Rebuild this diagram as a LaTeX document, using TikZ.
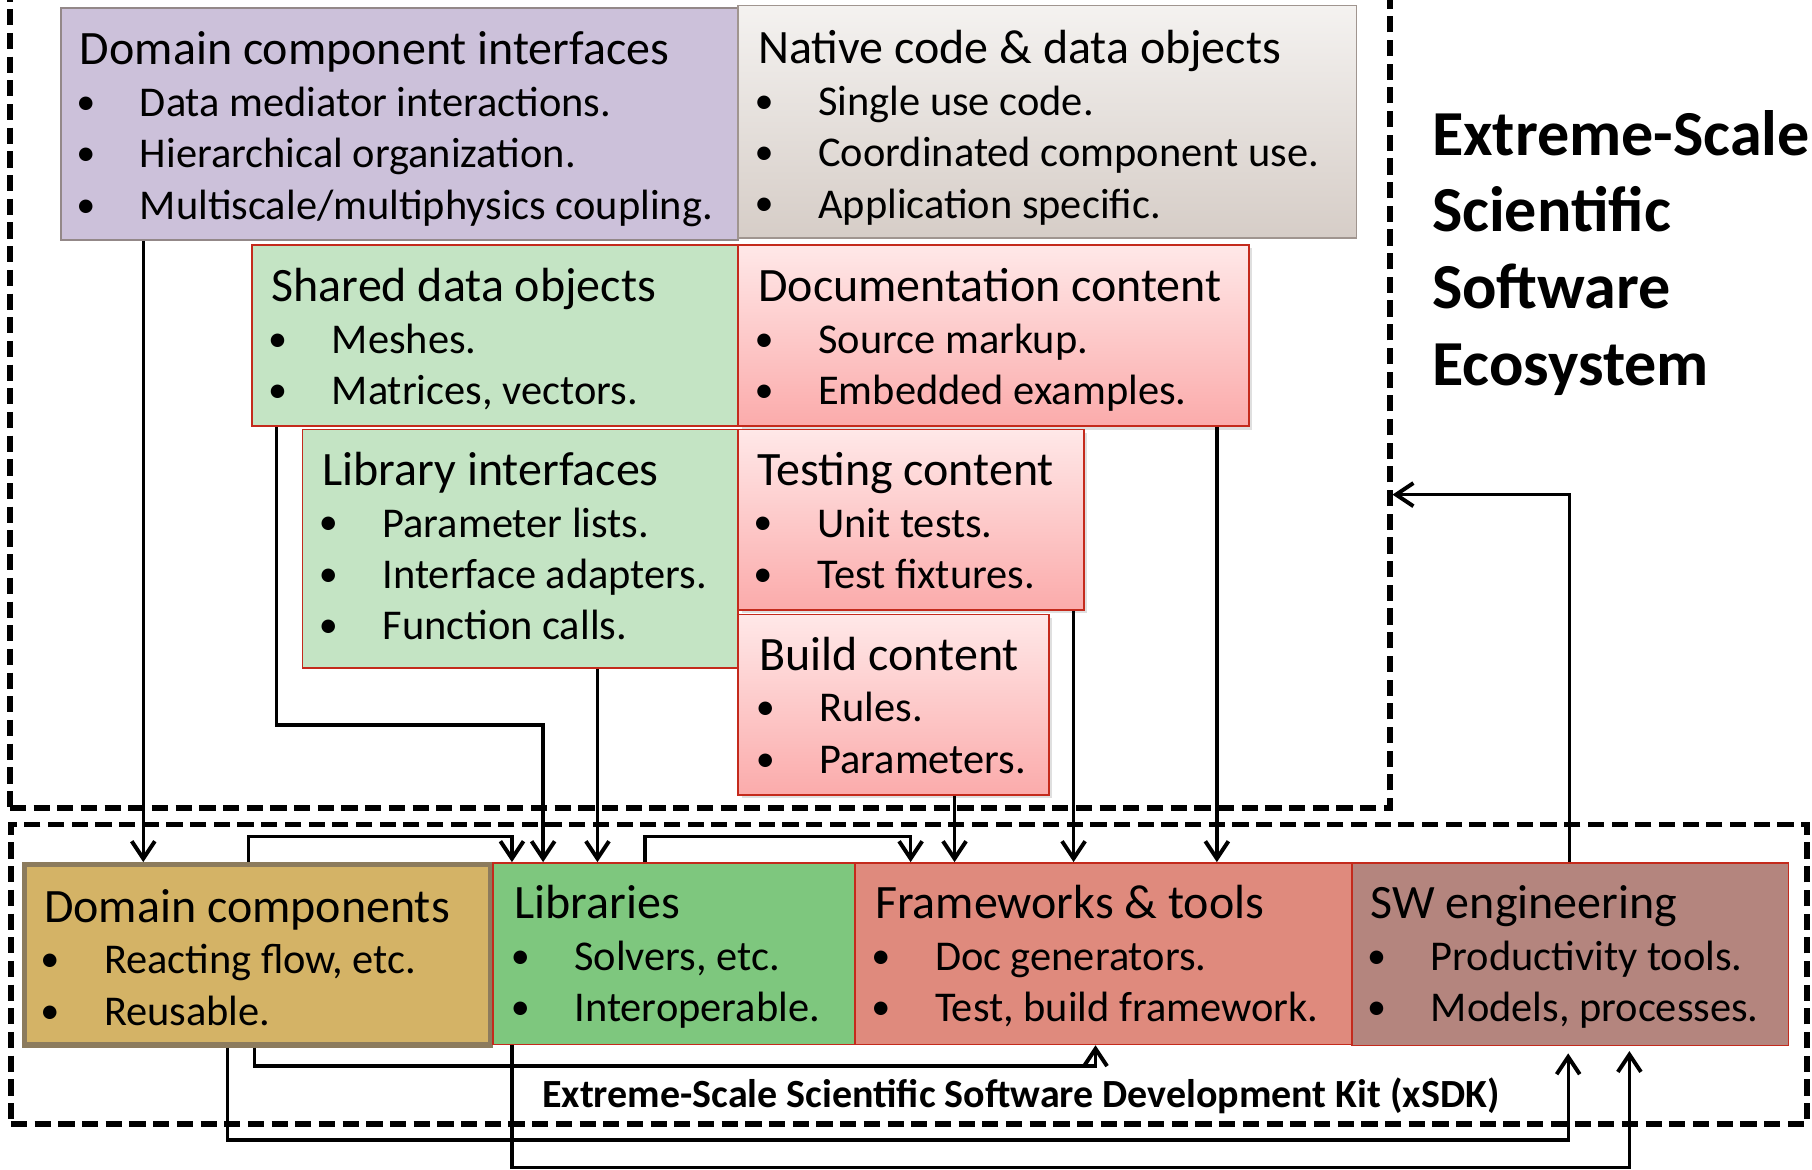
\documentclass[tikz,border=0pt]{standalone}
\usepackage{fontspec}
\setmainfont{Carlito}
\usepackage{xcolor}
\usetikzlibrary{arrows.meta}
\usetikzlibrary{shadows}
\definecolor{dcifill}{HTML}{CCC1DA}
\definecolor{nattop}{HTML}{F4F2F0}
\definecolor{natbot}{HTML}{D6CDC7}
\definecolor{natline}{HTML}{A0958F}
\definecolor{dciline}{HTML}{938888}
\definecolor{ltgreen}{HTML}{C4E4C4}
\definecolor{pinktop}{HTML}{FFE8E8}
\definecolor{pinkbot}{HTML}{FBABAB}
\definecolor{boxred}{HTML}{C42A1C}
\definecolor{domfill}{HTML}{D4B366}
\definecolor{domline}{HTML}{8C7B5D}
\definecolor{libfill}{HTML}{7EC77E}
\definecolor{frmfill}{HTML}{DF8A7D}
\definecolor{swfill}{HTML}{B4857E}
\newcommand{\hd}[1]{\rule{0pt}{34pt}{\fontsize{41.5}{44.5}\selectfont #1}}
\newcommand{\bl}{\hspace*{-3.2pt}\makebox[55.1pt][l]{\raisebox{1.8pt}{\fontsize{33}{33}\selectfont\textbullet}}}
\tikzset{
    box/.style = {rectangle, inner sep=0pt, anchor=north west, line width=1.5pt},
    gray_box/.style = {box, draw=natline},
    red_box/.style = {box, draw=boxred},
    pink_box/.style = {red_box, top color=pinktop, bottom color=pinkbot, drop shadow={shadow xshift=3pt, shadow yshift=-3pt, opacity=0.25}},
    dash_box/.style = {box, draw=black, line width=5pt, dash pattern=on 14pt off 6.5pt},
    txt/.style = {align=left, inner sep=0pt, anchor=north west, font=\fontsize{36.7}{44.5}\selectfont},
    conn/.style = {draw=black, line width=2.9pt}
}

\begin{document}
\begin{tikzpicture}
            [x=1pt, y=-1pt, ->, >={Straight Barb[length=15pt, width=20pt, line width=3.4pt]}]

            \useasboundingbox (0,0) rectangle (1568,1012);

            \node [dash_box, minimum width=1194pt, minimum height=720pt] (eco) at (6,-23) {};
            \node [dash_box, minimum width=1554pt, minimum height=259pt] (xsdk) at (7,711) {};

            \node [gray_box, draw=dciline, fill=dcifill, minimum width=586pt, minimum height=201pt] (dci) at (52,6) {};
            \node [gray_box, top color=nattop, bottom color=natbot, minimum width=535pt, minimum height=201pt] (native) at (638,4) {};
            \node [red_box, fill=ltgreen, minimum width=421pt, minimum height=157pt] (shared) at (217,211) {};
            \node [pink_box, minimum width=442pt, minimum height=157pt] (doc) at (638,211) {};
            \node [red_box, fill=ltgreen, minimum width=377pt, minimum height=206pt] (libif) at (261,371) {};
            \node [pink_box, minimum width=299pt, minimum height=156pt] (test) at (638,371) {};
            \node [pink_box, minimum width=269pt, minimum height=156pt] (build) at (638,531) {};

            \node [box, draw=domline, line width=4.5pt, fill=domfill, minimum width=403pt, minimum height=156pt] (domain) at (19,746) {};
            \node [red_box, fill=libfill, minimum width=313pt, minimum height=157pt] (libs) at (426,746) {};
            \node [red_box, fill=frmfill, minimum width=430pt, minimum height=157pt] (frame) at (739,746) {};
            \node [red_box, fill=swfill, minimum width=378pt, minimum height=158pt] (sweng) at (1169,746) {};

            \node [txt] (dci_t) at ([shift={(17,16)}]dci.north west)
                {\hd{Domain component interfaces}\\ \bl Data mediator interactions.\\ \bl Hierarchical organization.\\ \bl Multiscale/multiphysics coupling.};
            \node [txt] (native_t) at ([shift={(18,17)}]native.north west)
                {\hd{Native code \& data objects}\\ \bl Single use code.\\ \bl Coordinated component use.\\ \bl Application specific.};
            \node [txt] (shared_t) at ([shift={(18,16)}]shared.north west)
                {\hd{Shared data objects}\\ \bl Meshes.\\ \bl Matrices, vectors.};
            \node [txt] (doc_t) at ([shift={(18,16)}]doc.north west)
                {\hd{Documentation content}\\ \bl Source markup.\\ \bl Embedded examples.};
            \node [txt] (libif_t) at ([shift={(18,15)}]libif.north west)
                {\hd{Library interfaces}\\ \bl Parameter lists.\\ \bl Interface adapters.\\ \bl Function calls.};
            \node [txt] (test_t) at ([shift={(17,15)}]test.north west)
                {\hd{Testing content}\\ \bl Unit tests.\\ \bl Test fixtures.};
            \node [txt] (build_t) at ([shift={(19,15)}]build.north west)
                {\hd{Build content}\\ \bl Rules.\\ \bl Parameters.};
            \node [txt] (domain_t) at ([shift={(19,18)}]domain.north west)
                {\hd{Domain components}\\ \bl Reacting flow, etc.\\ \bl Reusable.};
            \node [txt] (libs_t) at ([shift={(19,15)}]libs.north west)
                {\hd{Libraries}\\ \bl Solvers, etc.\\ \bl Interoperable.};
            \node [txt] (frame_t) at ([shift={(18,15)}]frame.north west)
                {\hd{Frameworks \& tools}\\ \bl Doc generators.\\ \bl Test, build framework.};
            \node [txt] (sweng_t) at ([shift={(17,15)}]sweng.north west)
                {\hd{SW engineering}\\ \bl Productivity tools.\\ \bl Models, processes.};

            \node [txt, font=\bfseries\fontsize{55.5}{66.5}\selectfont] (title) at (1239,89)
                {\rule{0pt}{45pt}Extreme-Scale\\Scientific\\Software\\Ecosystem};
            \node [txt, anchor=base west, font=\bfseries\fontsize{34.6}{36}\selectfont] (xsdk_t) at ([shift={(462,-17)}]xsdk.south west)
                {Extreme-Scale Scientific Software Development Kit (xSDK)};

            \draw [conn] (dci.south -| 124,0) -- (domain.north -| 124,0);
            \draw [conn] (shared.south -| 239,0) -- ++(0,258) -| (libs.north -| 470,0);
            \draw [conn] (libif.south -| 517,0) -- (libs.north -| 517,0);
            \draw [conn] (domain.north -| 215,0) -- ++(0,-22) -| (libs.north -| 443,0);
            \draw [conn] (libs.north -| 558,0) -- ++(0,-22) -| (frame.north -| 788,0);
            \draw [conn] (build.south -| 826,0) -- (frame.north -| 826,0);
            \draw [conn] (test.south -| 929,0) -- (frame.north -| 929,0);
            \draw [conn] (doc.south -| 1053,0) -- (frame.north -| 1053,0);
            \draw [conn] (sweng.north -| 1358,0) |- (eco.east |- 0,428);
            \draw [conn] (domain.south -| 220,0) -- ++(0,16) -| (frame.south -| 948,0);
            \draw [conn] (domain.south -| 197,0) -- ++(0,80) -| ([yshift=-6pt]sweng.south -| 1357,0);
            \draw [conn] (libs.south -| 443,0) -- ++(0,106) -| ([yshift=-4pt]sweng.south -| 1410,0);
        \end{tikzpicture}
\end{document}
